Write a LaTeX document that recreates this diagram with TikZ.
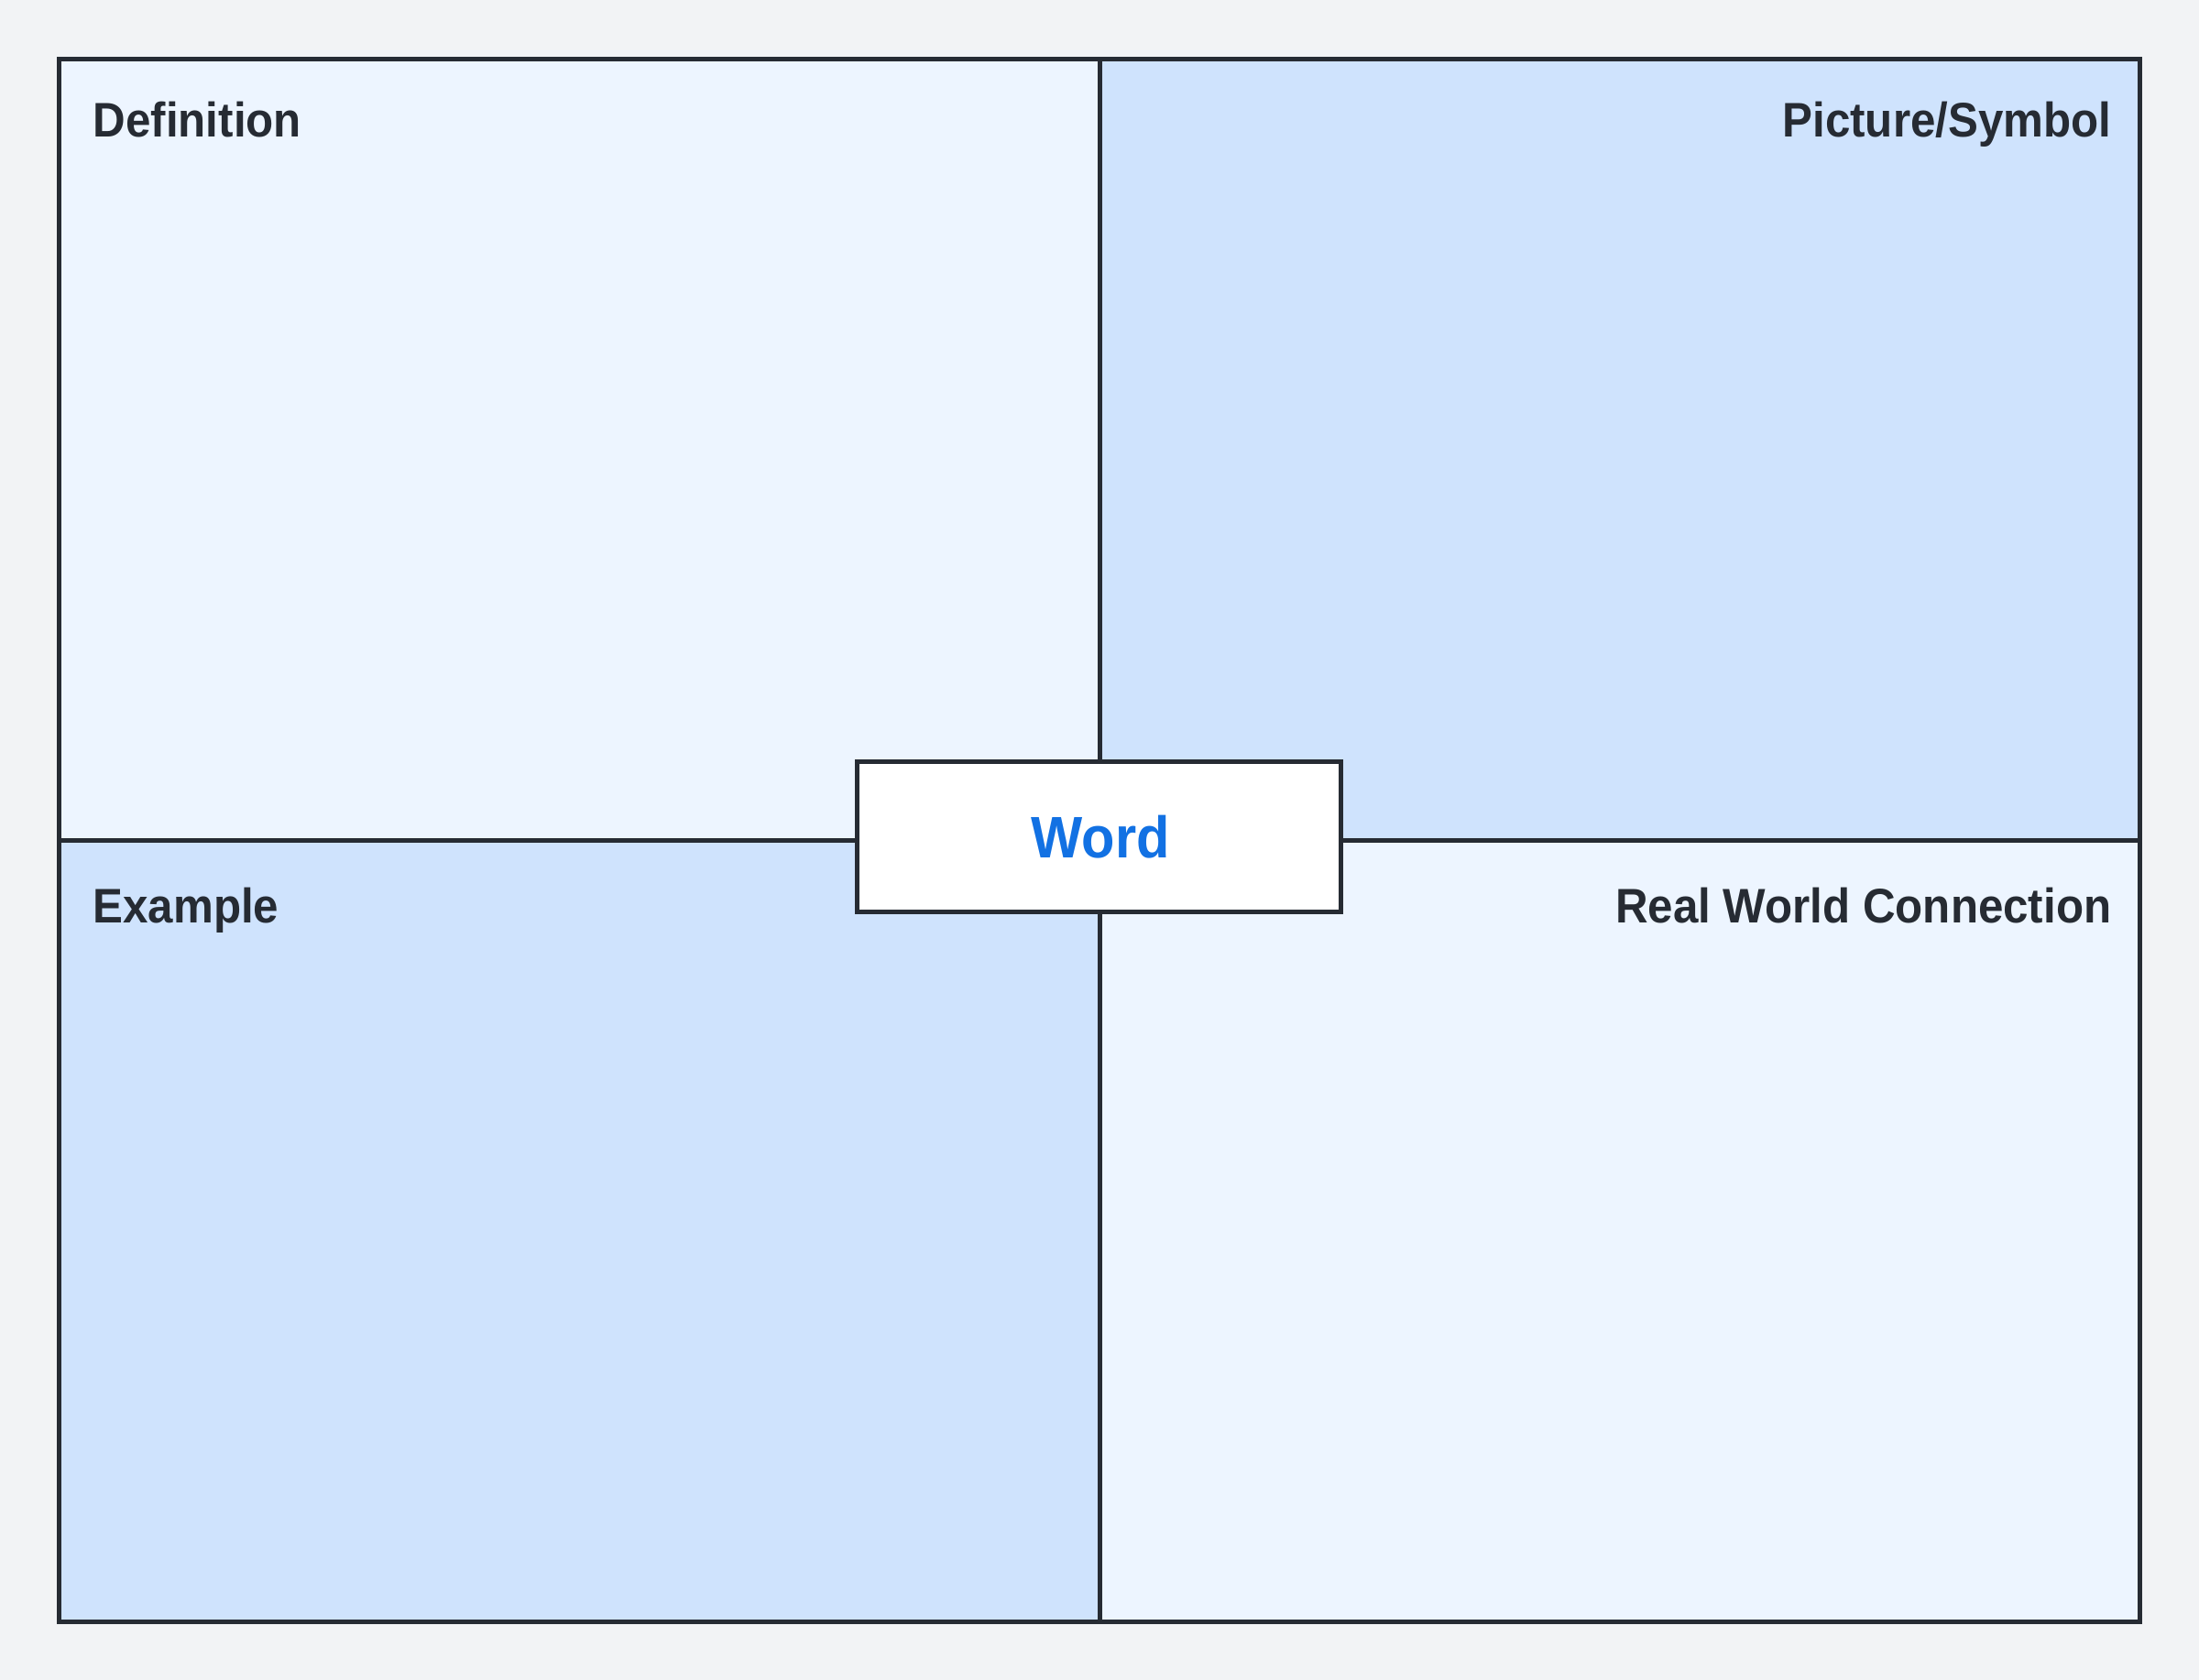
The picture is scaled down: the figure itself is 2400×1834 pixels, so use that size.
\documentclass[tikz,border=0pt]{standalone}
\usepackage{fontspec}
\setmainfont{Liberation Sans}[FakeStretch=0.93]
\definecolor{bgc}{HTML}{F2F3F5}
\definecolor{lightpane}{HTML}{EDF5FF}
\definecolor{darkpane}{HTML}{CFE3FD}
\definecolor{edgec}{HTML}{262B33}
\definecolor{wordblue}{HTML}{1271E3}
\begin{document}
\begin{tikzpicture}[x=0.3pt,y=-0.3pt,
  pane/.style={draw=edgec, line width=1.5pt, rectangle, inner sep=0pt, outer sep=0pt,
    minimum width=340.65pt, minimum height=255.75pt},
  lbl/.style={inner sep=0pt, text=edgec, font=\bfseries\fontsize{15.9pt}{18pt}\selectfont},
  wordbox/.style={draw=edgec, fill=white, line width=1.5pt, rectangle, inner sep=0pt,
    minimum width=158.4pt, minimum height=49.2pt}]
\fill[bgc] (0,0) rectangle (2400,1834);
\useasboundingbox (0,0) rectangle (2400,1834);
\node[pane, fill=lightpane] (def) at (632.25,490.75) {};
\node[pane, fill=darkpane] (pic) at (1767.75,490.75) {};
\node[pane, fill=darkpane] (ex) at (632.25,1343.75) {};
\node[pane, fill=lightpane] (rwc) at (1767.75,1343.75) {};
\node[lbl, anchor=base west] (tdef) at (101,149) {Definition};
\node[lbl, anchor=base east] (tpic) at (2305,149) {Picture/Symbol};
\node[lbl, anchor=base west] (tex) at (101,1007) {Example};
\node[lbl, anchor=base east] (trwc) at (2305,1007) {Real World Connection};
\node[wordbox] (word) at (1199,913) {};
\node[inner sep=0pt, anchor=base, text=wordblue, font=\bfseries\fontsize{19.2pt}{22pt}\selectfont] (tword) at (1201,936) {Word};
\end{tikzpicture}
\end{document}
